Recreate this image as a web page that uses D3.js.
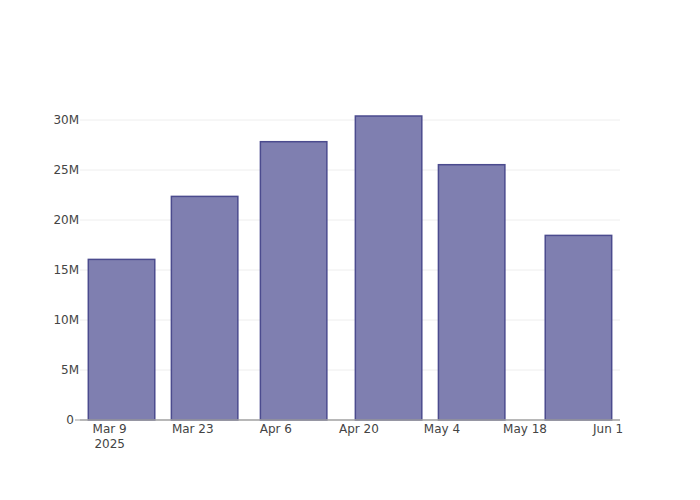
<!DOCTYPE html>
<html>
<head>
<meta charset="utf-8">
<script src="https://cdn.jsdelivr.net/npm/d3@7"></script>
<style>
  html, body { margin: 0; padding: 0; background: #fff; }
  svg { display: block; }
  text { font-family: "DejaVu Sans", sans-serif; font-size: 12px; fill: #444; }
</style>
</head>
<body>
<svg id="chart" width="700" height="500"></svg>
<script>
// Data
const dates = ["2025-03-11", "2025-03-25", "2025-04-09", "2025-04-25", "2025-05-09", "2025-05-27"];
const values = [16.06e6, 22.36e6, 27.83e6, 30.4e6, 25.53e6, 18.46e6];
const xTickDates = ["2025-03-09", "2025-03-23", "2025-04-06", "2025-04-20", "2025-05-04", "2025-05-18", "2025-06-01"];
const xTickLabels = ["Mar 9", "Mar 23", "Apr 6", "Apr 20", "May 4", "May 18", "Jun 1"];
const yTicks = [0, 5e6, 10e6, 15e6, 20e6, 25e6, 30e6];
const yTickLabels = ["0", "5M", "10M", "15M", "20M", "25M", "30M"];

const W = 700, H = 500;
const margin = { l: 80, r: 80, t: 100, b: 80 };
const parse = d3.utcParse("%Y-%m-%d");

const svg = d3.select("#chart");

const x = d3.scaleUtc()
  .domain([parse("2025-03-04"), parse("2025-06-03")])
  .range([margin.l, W - margin.r]);
const y = d3.scaleLinear()
  .domain([0, 32e6])
  .range([H - margin.b, margin.t]);

// gridlines
svg.append("g").selectAll("line").data(yTicks.slice(1)).join("line")
  .attr("x1", margin.l).attr("x2", W - margin.r)
  .attr("y1", d => y(d)).attr("y2", d => y(d))
  .attr("stroke", "#eeeeee").attr("stroke-width", 1);

// bars: width = 0.8 * min gap (14 days)
const parsed = dates.map(parse);
let minGap = Infinity;
for (let i = 1; i < parsed.length; i++) minGap = Math.min(minGap, parsed[i] - parsed[i - 1]);
const halfW = minGap * 0.8 / 2;

svg.append("g").selectAll("rect").data(dates.map((d, i) => ({ d: parse(d), v: values[i] }))).join("rect")
  .attr("x", d => x(new Date(+d.d - halfW)))
  .attr("width", d => x(new Date(+d.d + halfW)) - x(new Date(+d.d - halfW)))
  .attr("y", d => y(d.v))
  .attr("height", d => y(0) - y(d.v))
  .attr("fill", "#7f7fb0")
  .attr("stroke", "#4b4b8e")
  .attr("stroke-width", 1.5);

// x axis line
svg.append("line")
  .attr("x1", margin.l).attr("x2", W - margin.r)
  .attr("y1", y(0)).attr("y2", y(0))
  .attr("stroke", "#a0a0a0").attr("stroke-width", 1.5);

// y tick at zero
svg.append("line")
  .attr("x1", margin.l - 5).attr("x2", margin.l)
  .attr("y1", y(0)).attr("y2", y(0))
  .attr("stroke", "#a0a0a0").attr("stroke-width", 1);

// y labels
svg.append("g").selectAll("text").data(yTicks).join("text")
  .attr("x", (d, i) => i === 0 ? margin.l - 6 : margin.l - 1)
  .attr("y", d => y(d))
  .attr("dy", "0.35em")
  .attr("text-anchor", "end")
  .text((d, i) => yTickLabels[i]);

// x labels
const xl = svg.append("g").selectAll("text").data(xTickDates).join("text")
  .attr("x", d => x(parse(d)))
  .attr("y", y(0) + 13)
  .attr("text-anchor", "middle");
xl.append("tspan").attr("x", d => x(parse(d))).attr("dy", 0).text((d, i) => xTickLabels[i]);
xl.filter((d, i) => i === 0).append("tspan")
  .attr("x", d => x(parse(d))).attr("dy", 15).text("2025");
</script>
</body>
</html>
